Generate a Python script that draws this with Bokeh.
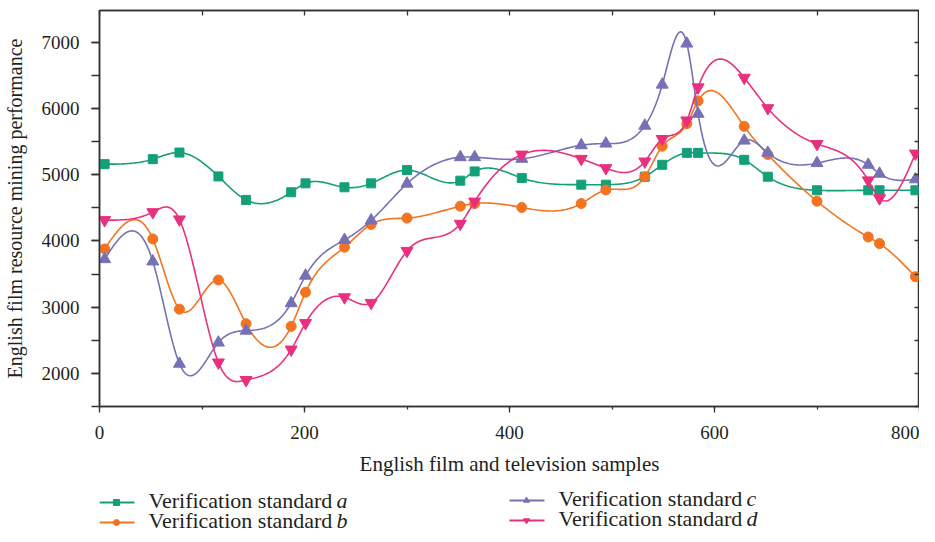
import numpy as np
from bokeh.plotting import figure
from bokeh.layouts import column
from bokeh.models import (LinearAxis, SingleIntervalTicker, Range1d, CustomJSTickFormatter)
from bokeh.core.properties import value
from bokeh.embed import file_html
from bokeh.resources import INLINE

# ---- data ----
samples = [5, 52, 78, 116, 143, 187, 201, 239, 265, 300, 352, 366, 412, 470, 494,
           532, 549, 573, 584, 629, 652, 700, 750, 761, 796]
std_a = [5160, 5235, 5335, 4975, 4620, 4735, 4870, 4810, 4870, 5070, 4910, 5050, 4950,
         4850, 4850, 4970, 5150, 5330, 5330, 5225, 4970, 4765, 4765, 4765, 4765]
std_b = [3880, 4030, 2970, 3410, 2750, 2710, 3225, 3905, 4250, 4345, 4525, 4565, 4505,
         4565, 4770, 4970, 5430, 5770, 6115, 5730, 5305, 4600, 4060, 3960, 3460]
std_c = [3725, 3690, 2145, 2465, 2645, 3060, 3475, 4015, 4310, 4865, 5265, 5265, 5240,
         5445, 5470, 5740, 6360, 6980, 5920, 5515, 5330, 5175, 5150, 5015, 4930]
std_d = [4315, 4435, 4325, 2165, 1900, 2360, 2760, 3150, 3065, 3850, 4260, 4595, 5305,
         5240, 5100, 5200, 5540, 5820, 6320, 6465, 6005, 5465, 4915, 4645, 5320]
series_names = ["a", "b", "c", "d"]

colors = ["#13a079", "#f37321", "#7671b5", "#e9307f"]
markers = ["square", "circle", "triangle", "inverted_triangle"]
msizes = [9, 10, 12, 12]

SERIF = "Liberation Serif"
TXT = "#231f20"


def spline_curve(x, y, per=30):
    """Natural cubic spline through the points (line style, like the original's spline connector)."""
    x = np.asarray(x, float); y = np.asarray(y, float)
    n = len(x)
    h = np.diff(x)
    A = np.zeros((n, n)); r = np.zeros(n)
    A[0, 0] = 1; A[-1, -1] = 1
    for i in range(1, n - 1):
        A[i, i - 1] = h[i - 1]
        A[i, i] = 2 * (h[i - 1] + h[i])
        A[i, i + 1] = h[i]
        r[i] = 6 * ((y[i + 1] - y[i]) / h[i] - (y[i] - y[i - 1]) / h[i - 1])
    M = np.linalg.solve(A, r)
    xs, ys = [], []
    for i in range(n - 1):
        t = np.linspace(x[i], x[i + 1], per, endpoint=(i == n - 2))
        a = x[i + 1] - t; b = t - x[i]
        s = (M[i] * a ** 3 + M[i + 1] * b ** 3) / (6 * h[i]) \
            + (y[i] / h[i] - M[i] * h[i] / 6) * a + (y[i + 1] / h[i] - M[i + 1] * h[i] / 6) * b
        xs.extend(t); ys.extend(s)
    return xs, ys


p = figure(width=919, height=478, output_backend="svg", toolbar_location=None,
           x_range=Range1d(0, 800), y_range=Range1d(1500, 7480),
           min_border_left=91, min_border_right=0, min_border_top=10, min_border_bottom=70,
           x_axis_location=None, y_axis_location=None)
p.grid.visible = False
p.outline_line_color = "#333333"
p.outline_line_width = 1.5
p.background_fill_color = "white"
p.border_fill_color = "white"

for vals, col, mk, ms in zip([std_a, std_b, std_c, std_d], colors, markers, msizes):
    xs, ys = spline_curve(samples, vals)
    p.line(xs, ys, line_color=col, line_width=1.6)
    p.scatter(samples, vals, marker=mk, size=ms, fill_color=col, line_color=col)

# bottom axis
xb = LinearAxis(ticker=SingleIntervalTicker(interval=200, num_minor_ticks=2),
                axis_label="English film and television samples")
# left axis
yl = LinearAxis(ticker=SingleIntervalTicker(interval=1000, num_minor_ticks=2),
                axis_label="English film resource mining performance")
for ax in (xb, yl):
    ax.axis_line_color = "#333333"; ax.axis_line_width = 1.5
    ax.major_tick_line_color = "#333333"; ax.minor_tick_line_color = "#333333"
    ax.major_tick_line_width = 1.3; ax.minor_tick_line_width = 1.3
    ax.major_tick_in = 0; ax.minor_tick_in = 0
    ax.major_label_text_font = SERIF; ax.major_label_text_font_size = "19px"
    ax.major_label_text_color = TXT
    ax.axis_label_text_font = SERIF; ax.axis_label_text_font_style = "normal"
    ax.axis_label_text_color = TXT
xb.major_tick_out = 6; xb.minor_tick_out = 3
xb.major_label_standoff = 13
xb.axis_label_text_font_size = "21px"; xb.axis_label_standoff = 10
yl.major_tick_out = 8; yl.minor_tick_out = 8
yl.major_label_standoff = 12
yl.axis_label_text_font_size = "20px"; yl.axis_label_standoff = 13
p.add_layout(xb, "below")
p.add_layout(yl, "left")

# top / right axes: inward ticks only, no labels
blank = CustomJSTickFormatter(code="return ''")
xt = LinearAxis(ticker=SingleIntervalTicker(interval=100, num_minor_ticks=0), formatter=blank)
yr = LinearAxis(ticker=SingleIntervalTicker(interval=500, num_minor_ticks=0), formatter=blank)
for ax in (xt, yr):
    ax.axis_line_color = "#333333"; ax.axis_line_width = 1.5
    ax.major_tick_line_color = "#333333"; ax.major_tick_line_width = 1.3
    ax.major_tick_in = 5; ax.major_tick_out = 0
    ax.minor_tick_in = 0; ax.minor_tick_out = 0
    ax.major_label_text_font_size = "0px"
    ax.major_label_standoff = 0
p.add_layout(xt, "above")
p.add_layout(yr, "right")

# ---- legend as its own strip (coordinates: page px, y measured down from strip top) ----
LH = 56
lg = figure(width=919, height=LH, output_backend="svg", toolbar_location=None,
            x_range=Range1d(99, 919), y_range=Range1d(LH, 0),
            min_border=0, x_axis_location=None, y_axis_location=None)
lg.grid.visible = False
lg.outline_line_color = None
lg.border_fill_color = "white"
lg.background_fill_color = "white"

# slot positions: column start x, text centre y
slots = [(99, 22), (99, 42), (509, 20), (509, 40)]
for name, col, mk, (sx, sy) in zip(series_names, colors, markers, slots):
    lg.line([sx, sx + 35], [sy + 2, sy + 2], line_color=col, line_width=2)
    lg.scatter([sx + 17], [sy + 2], marker=mk, size=6, fill_color=col, line_color=col)
    lg.text([sx + 49], [sy], text=["Verification standard"], text_font=value(SERIF),
            text_font_size="22px", text_baseline="middle", text_color=TXT)
    lg.text([sx + 49 + 188], [sy], text=[name], text_font=value(SERIF),
            text_font_size="22px", text_font_style="italic", text_baseline="middle",
            text_color=TXT)

layout = column(p, lg, spacing=0)
open("out.html", "w").write(file_html(layout, INLINE))
